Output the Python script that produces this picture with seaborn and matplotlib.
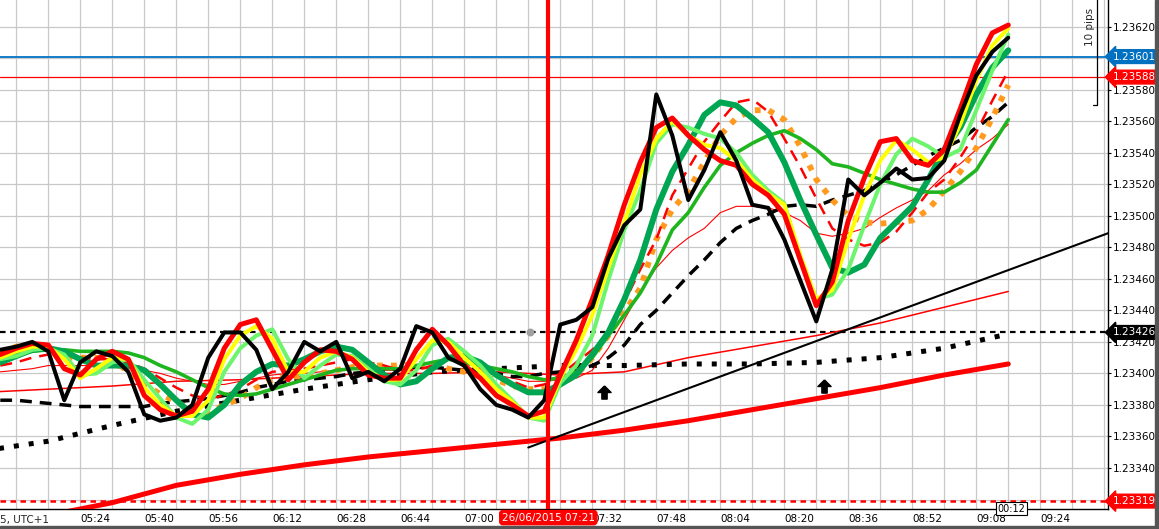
import matplotlib
matplotlib.use("Agg")
import matplotlib.pyplot as plt
import numpy as np
import pandas as pd
import seaborn as sns
from matplotlib.patches import Rectangle

# 1 minute chart, 26/06/2015 (every 4 min)
times = pd.date_range("2015-06-26 05:04", "2015-06-26 09:16", freq="4min")
slow_times = pd.date_range("2015-06-26 05:00", "2015-06-26 09:16", freq="16min")

price = [1.23415, 1.23417, 1.23420, 1.23414, 1.23383, 1.23407, 1.23414, 1.23411, 1.23401, 1.23374,
         1.23370, 1.23372, 1.23380, 1.23410, 1.23426, 1.23426, 1.23415, 1.23390, 1.23401, 1.23420,
         1.23414, 1.23420, 1.23397, 1.23401, 1.23395, 1.23403, 1.23430, 1.23426, 1.23410, 1.23405,
         1.23390, 1.23380, 1.23377, 1.23372, 1.23383, 1.23431, 1.23434, 1.23442, 1.23473, 1.23494,
         1.23504, 1.23577, 1.23551, 1.23510, 1.23529, 1.23553, 1.23535, 1.23507, 1.23505, 1.23485,
         1.23459, 1.23433, 1.23466, 1.23523, 1.23513, 1.23521, 1.23530, 1.23523, 1.23524, 1.23535,
         1.23564, 1.23589, 1.23604, 1.23613]
ma_red = [1.23412, 1.23416, 1.23419, 1.23418, 1.23403, 1.23399, 1.23409, 1.23414, 1.23409, 1.23386,
          1.23377, 1.23373, 1.23376, 1.23390, 1.23416, 1.23431, 1.23434, 1.23415, 1.23396, 1.23407,
          1.23415, 1.23414, 1.23409, 1.23399, 1.23397, 1.23397, 1.23415, 1.23428, 1.23418, 1.23405,
          1.23397, 1.23386, 1.23380, 1.23373, 1.23376, 1.23399, 1.23421, 1.23447, 1.23475, 1.23507,
          1.23534, 1.23556, 1.23562, 1.23551, 1.23542, 1.23535, 1.23532, 1.23520, 1.23513, 1.23501,
          1.23472, 1.23443, 1.23458, 1.23497, 1.23524, 1.23547, 1.23549, 1.23535, 1.23532, 1.23542,
          1.23568, 1.23596, 1.23616, 1.23621]
ma_yellow = [1.23410, 1.23414, 1.23417, 1.23417, 1.23409, 1.23397, 1.23403, 1.23410, 1.23409, 1.23391,
             1.23380, 1.23373, 1.23373, 1.23383, 1.23409, 1.23424, 1.23430, 1.23422, 1.23401, 1.23401,
             1.23410, 1.23414, 1.23410, 1.23401, 1.23396, 1.23396, 1.23409, 1.23421, 1.23420, 1.23410,
             1.23401, 1.23390, 1.23382, 1.23372, 1.23372, 1.23397, 1.23415, 1.23437, 1.23467, 1.23496,
             1.23526, 1.23549, 1.23560, 1.23551, 1.23545, 1.23543, 1.23535, 1.23523, 1.23514, 1.23507,
             1.23475, 1.23447, 1.23453, 1.23485, 1.23513, 1.23535, 1.23548, 1.23542, 1.23534, 1.23537,
             1.23558, 1.23586, 1.23608, 1.23619]
ma_lime = [1.23409, 1.23411, 1.23415, 1.23416, 1.23412, 1.23399, 1.23400, 1.23407, 1.23409, 1.23396,
           1.23384, 1.23372, 1.23368, 1.23377, 1.23401, 1.23416, 1.23424, 1.23428, 1.23409, 1.23397,
           1.23405, 1.23412, 1.23411, 1.23403, 1.23395, 1.23393, 1.23402, 1.23418, 1.23422, 1.23414,
           1.23405, 1.23393, 1.23383, 1.23372, 1.23370, 1.23394, 1.23405, 1.23424, 1.23459, 1.23491,
           1.23516, 1.23546, 1.23558, 1.23556, 1.23552, 1.23549, 1.23540, 1.23526, 1.23516, 1.23508,
           1.23473, 1.23447, 1.23450, 1.23466, 1.23494, 1.23520, 1.23539, 1.23549, 1.23544, 1.23537,
           1.23542, 1.23567, 1.23592, 1.23615]
ma_dkgreen = [1.23407, 1.23411, 1.23415, 1.23416, 1.23414, 1.23409, 1.23405, 1.23405, 1.23405, 1.23402,
              1.23393, 1.23383, 1.23374, 1.23372, 1.23380, 1.23393, 1.23401, 1.23406, 1.23405, 1.23409,
              1.23414, 1.23417, 1.23415, 1.23407, 1.23399, 1.23393, 1.23395, 1.23403, 1.23410, 1.23411,
              1.23407, 1.23399, 1.23393, 1.23388, 1.23388, 1.23393, 1.23399, 1.23412, 1.23426, 1.23447,
              1.23472, 1.23504, 1.23528, 1.23545, 1.23564, 1.23572, 1.23570, 1.23562, 1.23553, 1.23534,
              1.23510, 1.23488, 1.23467, 1.23464, 1.23469, 1.23486, 1.23496, 1.23506, 1.23523, 1.23542,
              1.23556, 1.23577, 1.23594, 1.23605]
ma_green = [1.23410, 1.23412, 1.23414, 1.23415, 1.23415, 1.23414, 1.23414, 1.23414, 1.23413, 1.23410,
            1.23405, 1.23401, 1.23396, 1.23391, 1.23387, 1.23386, 1.23387, 1.23390, 1.23393, 1.23396,
            1.23399, 1.23402, 1.23403, 1.23403, 1.23403, 1.23403, 1.23405, 1.23407, 1.23409, 1.23407,
            1.23405, 1.23403, 1.23401, 1.23398, 1.23396, 1.23397, 1.23401, 1.23410, 1.23424, 1.23437,
            1.23451, 1.23469, 1.23491, 1.23502, 1.23518, 1.23532, 1.23540, 1.23546, 1.23551, 1.23554,
            1.23549, 1.23542, 1.23533, 1.23531, 1.23527, 1.23523, 1.23520, 1.23517, 1.23515, 1.23515,
            1.23521, 1.23529, 1.23545, 1.23561]
ma_red_dash = [1.23405, 1.23407, 1.23410, 1.23412, 1.23412, 1.23410, 1.23409, 1.23409, 1.23407, 1.23403,
               1.23397, 1.23391, 1.23386, 1.23384, 1.23386, 1.23390, 1.23396, 1.23401, 1.23402, 1.23403,
               1.23405, 1.23407, 1.23409, 1.23407, 1.23405, 1.23402, 1.23402, 1.23405, 1.23409, 1.23407,
               1.23403, 1.23399, 1.23395, 1.23391, 1.23393, 1.23399, 1.23407, 1.23415, 1.23424, 1.23445,
               1.23466, 1.23485, 1.23513, 1.23530, 1.23547, 1.23560, 1.23572, 1.23574, 1.23566, 1.23549,
               1.23531, 1.23511, 1.23492, 1.23485, 1.23481, 1.23483, 1.23490, 1.23502, 1.23515, 1.23523,
               1.23537, 1.23553, 1.23573, 1.23592]
ma_orange = [1.23413, 1.23417, 1.23418, 1.23415, 1.23410, 1.23410, 1.23410, 1.23409, 1.23401, 1.23393,
             1.23387, 1.23382, 1.23376, 1.23375, 1.23380, 1.23384, 1.23391, 1.23396, 1.23398, 1.23398,
             1.23400, 1.23402, 1.23404, 1.23405, 1.23405, 1.23405, 1.23406, 1.23406, 1.23403, 1.23401,
             1.23398, 1.23396, 1.23392, 1.23390, 1.23390, 1.23393, 1.23399, 1.23410, 1.23424, 1.23439,
             1.23454, 1.23485, 1.23504, 1.23516, 1.23534, 1.23551, 1.23562, 1.23567, 1.23567, 1.23561,
             1.23544, 1.23523, 1.23510, 1.23500, 1.23496, 1.23495, 1.23496, 1.23497, 1.23504, 1.23516,
             1.23528, 1.23543, 1.23562, 1.23583]
ma_black_dash = [1.23383, 1.23383, 1.23382, 1.23381, 1.23380, 1.23379, 1.23379, 1.23379, 1.23379, 1.23379,
                 1.23381, 1.23382, 1.23383, 1.23384, 1.23386, 1.23388, 1.23391, 1.23393, 1.23395, 1.23396,
                 1.23397, 1.23398, 1.23400, 1.23401, 1.23402, 1.23403, 1.23404, 1.23404, 1.23403, 1.23402,
                 1.23401, 1.23400, 1.23398, 1.23398, 1.23400, 1.23401, 1.23402, 1.23405, 1.23410, 1.23418,
                 1.23431, 1.23440, 1.23451, 1.23462, 1.23472, 1.23483, 1.23492, 1.23497, 1.23501, 1.23506,
                 1.23507, 1.23506, 1.23510, 1.23513, 1.23516, 1.23521, 1.23526, 1.23532, 1.23538, 1.23543,
                 1.23548, 1.23556, 1.23563, 1.23572]
ma_red_thin = [1.23401, 1.23402, 1.23403, 1.23405, 1.23405, 1.23405, 1.23405, 1.23404, 1.23403, 1.23402,
               1.23400, 1.23397, 1.23395, 1.23393, 1.23393, 1.23395, 1.23397, 1.23399, 1.23400, 1.23400,
               1.23401, 1.23402, 1.23403, 1.23403, 1.23402, 1.23402, 1.23403, 1.23403, 1.23403, 1.23403,
               1.23401, 1.23399, 1.23397, 1.23395, 1.23395, 1.23396, 1.23397, 1.23402, 1.23416, 1.23434,
               1.23452, 1.23467, 1.23478, 1.23486, 1.23492, 1.23502, 1.23506, 1.23506, 1.23505, 1.23502,
               1.23497, 1.23489, 1.23487, 1.23489, 1.23492, 1.23499, 1.23505, 1.23510, 1.23516, 1.23526,
               1.23533, 1.23542, 1.23549, 1.23558]

# slow averages (every 16 min)
ma_red_long = [1.23301, 1.23310, 1.23318, 1.23329, 1.23336, 1.23342, 1.23347, 1.23351, 1.23355,
               1.23359, 1.23364, 1.23370, 1.23377, 1.23384, 1.23391, 1.23399, 1.23406]
ma_red_slow = [1.23388, 1.23390, 1.23392, 1.23395, 1.23396, 1.23398, 1.23400, 1.23400, 1.23401,
               1.23399, 1.23401, 1.23410, 1.23417, 1.23424, 1.23432, 1.23442, 1.23452]
ma_black_dot = [1.23351, 1.23357, 1.23367, 1.23376, 1.23383, 1.23390, 1.23396, 1.23401, 1.23403,
                1.23405, 1.23405, 1.23406, 1.23406, 1.23407, 1.23410, 1.23416, 1.23425]

# drawn objects
trend_times = ["07:16", "09:41"]
trend_prices = [1.23353, 1.23489]
level_prices = [1.23601, 1.23588, 1.23426, 1.23319]
level_labels = ["1.23601", "1.23588", "1.23426", "1.23319"]
arrow_times = ["07:35", "08:30"]
arrow_prices = [1.23388, 1.23392]
cursor_time = "07:21"


def to_min(ts):
    ts = pd.DatetimeIndex(ts)
    return np.asarray(ts.hour * 60 + ts.minute + ts.second / 60.0, dtype=float)


def hm(s):
    h, m = s.split(":")
    return int(h) * 60 + int(m)


df = pd.DataFrame({"t": to_min(times), "price": price, "red": ma_red, "yellow": ma_yellow,
                   "lime": ma_lime, "dkgreen": ma_dkgreen, "green": ma_green,
                   "red_dash": ma_red_dash, "orange": ma_orange, "black_dash": ma_black_dash,
                   "red_thin": ma_red_thin})
slow = pd.DataFrame({"t": to_min(slow_times), "red_long": ma_red_long,
                     "red_slow": ma_red_slow, "black_dot": ma_black_dot})

sns.set_style("white")
plt.rcParams["font.family"] = ["DejaVu Sans"]

fig = plt.figure(figsize=(11.59, 5.29), dpi=100)
ax = fig.add_axes([0, 0.03724, 0.95625, 0.96276])
xmin, xmax = 303.93, 581.0
ymin, ymax = 1.233138, 1.236369
ax.set_xlim(xmin, xmax)
ax.set_ylim(ymin, ymax)

# grid
for m in np.arange(308, 581, 8):
    ax.axvline(m, color="#c8c8c8", lw=0.9, zorder=0)
yt = np.round(np.arange(1.23320, 1.23621, 0.0002), 5)
for p in yt:
    ax.axhline(p, color="#c8c8c8", lw=0.9, zorder=0)

# horizontal levels
ax.axhline(level_prices[0], color="#0072c6", lw=1.3, zorder=2)
ax.axhline(level_prices[1], color="#ff0000", lw=0.9, zorder=2)
ax.axhline(level_prices[2], color="black", lw=1.6, ls=(0, (2.5, 2)), zorder=2)
ax.axhline(level_prices[3], color="#ff0000", lw=1.8, ls=(0, (2.2, 1.8)), zorder=2)

# slow lines
sns.lineplot(data=slow, x="t", y="red_long", ax=ax, color="#ff0000", lw=3.6, zorder=3, legend=False)
sns.lineplot(data=slow, x="t", y="red_slow", ax=ax, color="#ff0000", lw=1.1, zorder=3, legend=False)
sns.lineplot(data=slow, x="t", y="black_dot", ax=ax, color="black", lw=3.6,
             linestyle=(0, (1, 2)), zorder=3, legend=False)

# trend line
tt = [hm(s) for s in trend_times]
ax.plot(tt, trend_prices, color="black", lw=1.5, zorder=3)

styles = [
    ("red_thin", "#ff0000", 0.8, "-", 4),
    ("black_dash", "black", 2.5, (0, (3.4, 2.3)), 4),
    ("orange", "#ff9a1f", 4.2, (0, (1, 1.4)), 4),
    ("red_dash", "#ff0000", 1.8, (0, (4.8, 3.2)), 4),
    ("green", "#1fb51f", 2.6, "-", 5),
    ("dkgreen", "#00a651", 4.3, "-", 5),
    ("lime", "#6cf56c", 2.9, "-", 6),
    ("yellow", "#ffff00", 2.9, "-", 6),
    ("red", "#ff0000", 3.6, "-", 7),
    ("price", "black", 2.9, "-", 8),
]
for col, c, lw, ls, z in styles:
    sns.lineplot(data=df, x="t", y=col, ax=ax, color=c, lw=lw, linestyle=ls,
                 zorder=z, legend=False)

# markers
arrow_marker = [(0, 1), (-1, 0), (-0.4, 0), (-0.4, -1), (0.4, -1), (0.4, 0), (1, 0), (0, 1)]
ax.scatter([hm(s) for s in arrow_times], arrow_prices, marker=arrow_marker, s=90,
           color="black", zorder=9)
ax.scatter([436.4], [level_prices[2]], s=22, color="#a0a0a0", zorder=9)

# cursor line
cur = hm(cursor_time)
ax.axvline(cur, color="#ff0000", lw=3, zorder=10)

# 10 pips ruler
ax.plot([578.25, 578.25, 577.1], [1.23670, 1.23570, 1.23570], color="black", lw=0.9,
        zorder=9, clip_on=False)
ax.text(576.4, 1.23620, "10 pips", rotation=90, fontsize=7.5, ha="center", va="center", zorder=9)

# axes styling
for s in ["left", "top"]:
    ax.spines[s].set_visible(False)
for s in ["right", "bottom"]:
    ax.spines[s].set_color("black")
    ax.spines[s].set_linewidth(1.0)
ax.set_xlabel("")
ax.set_ylabel("")
ax.yaxis.tick_right()
ax.set_yticks(yt)
# 1.23600 and 1.23320 sit under the price tags
ax.set_yticklabels(["" if p in (1.236, 1.2332) else f"{p:.5f}" for p in yt])
ax.tick_params(axis="y", direction="out", length=2.5, width=0.8, pad=1, labelsize=7.5, colors="black")
xt = [m for m in range(324, 570, 16) if m != 436]
ax.set_xticks(xt)
ax.set_xticklabels([f"{m // 60:02d}:{m % 60:02d}" for m in xt], ha="left")
ax.tick_params(axis="x", direction="out", length=3, width=0.8, pad=0.5, labelsize=7.5, colors="black")
ax.text(0, -0.011, "5, UTC+1", transform=ax.transAxes, fontsize=7.5, ha="left", va="top")

# price tags on the right axis
tag_colors = ["#0070c0", "#ff0000", "black", "#ff0000"]
for p, lab, c in zip(level_prices, level_labels, tag_colors):
    ax.annotate(lab, xy=(1.0, p), xycoords=("axes fraction", "data"), xytext=(3.2, 0),
                textcoords="offset points", ha="left", va="center", fontsize=7.5, color="white",
                annotation_clip=False, zorder=12,
                bbox=dict(boxstyle="larrow,pad=0.18", fc=c, ec=c))

# time tags
ax.annotate("26/06/2015 07:21", xy=(cur, 0), xycoords=("data", "axes fraction"), xytext=(0, -6),
            textcoords="offset points", ha="center", va="center", fontsize=7.5, color="white",
            annotation_clip=False, zorder=12,
            bbox=dict(boxstyle="round,pad=0.2,rounding_size=0.3", fc="#ff0000", ec="#ff0000"))
ax.plot([556.85], [ymin + 0.0000125], marker="^", ms=6, mfc="white", mec="black",
        mew=0.8, clip_on=False, zorder=12)
ax.annotate("00:12", xy=(556.85, 0), xycoords=("data", "axes fraction"), xytext=(0, 0.5),
            textcoords="offset points", ha="center", va="center", fontsize=7, color="black",
            annotation_clip=False, zorder=13,
            bbox=dict(boxstyle="square,pad=0.18", fc="white", ec="black", lw=0.8))

# window frame
fig.patches.append(Rectangle((0, 0), 1, 3 / 529, transform=fig.transFigure, color="#555555", zorder=0))
fig.patches.append(Rectangle((1155 / 1159, 0), 4 / 1159, 1, transform=fig.transFigure,
                             color="#555555", zorder=0))

fig.savefig("out.png", dpi=100)
